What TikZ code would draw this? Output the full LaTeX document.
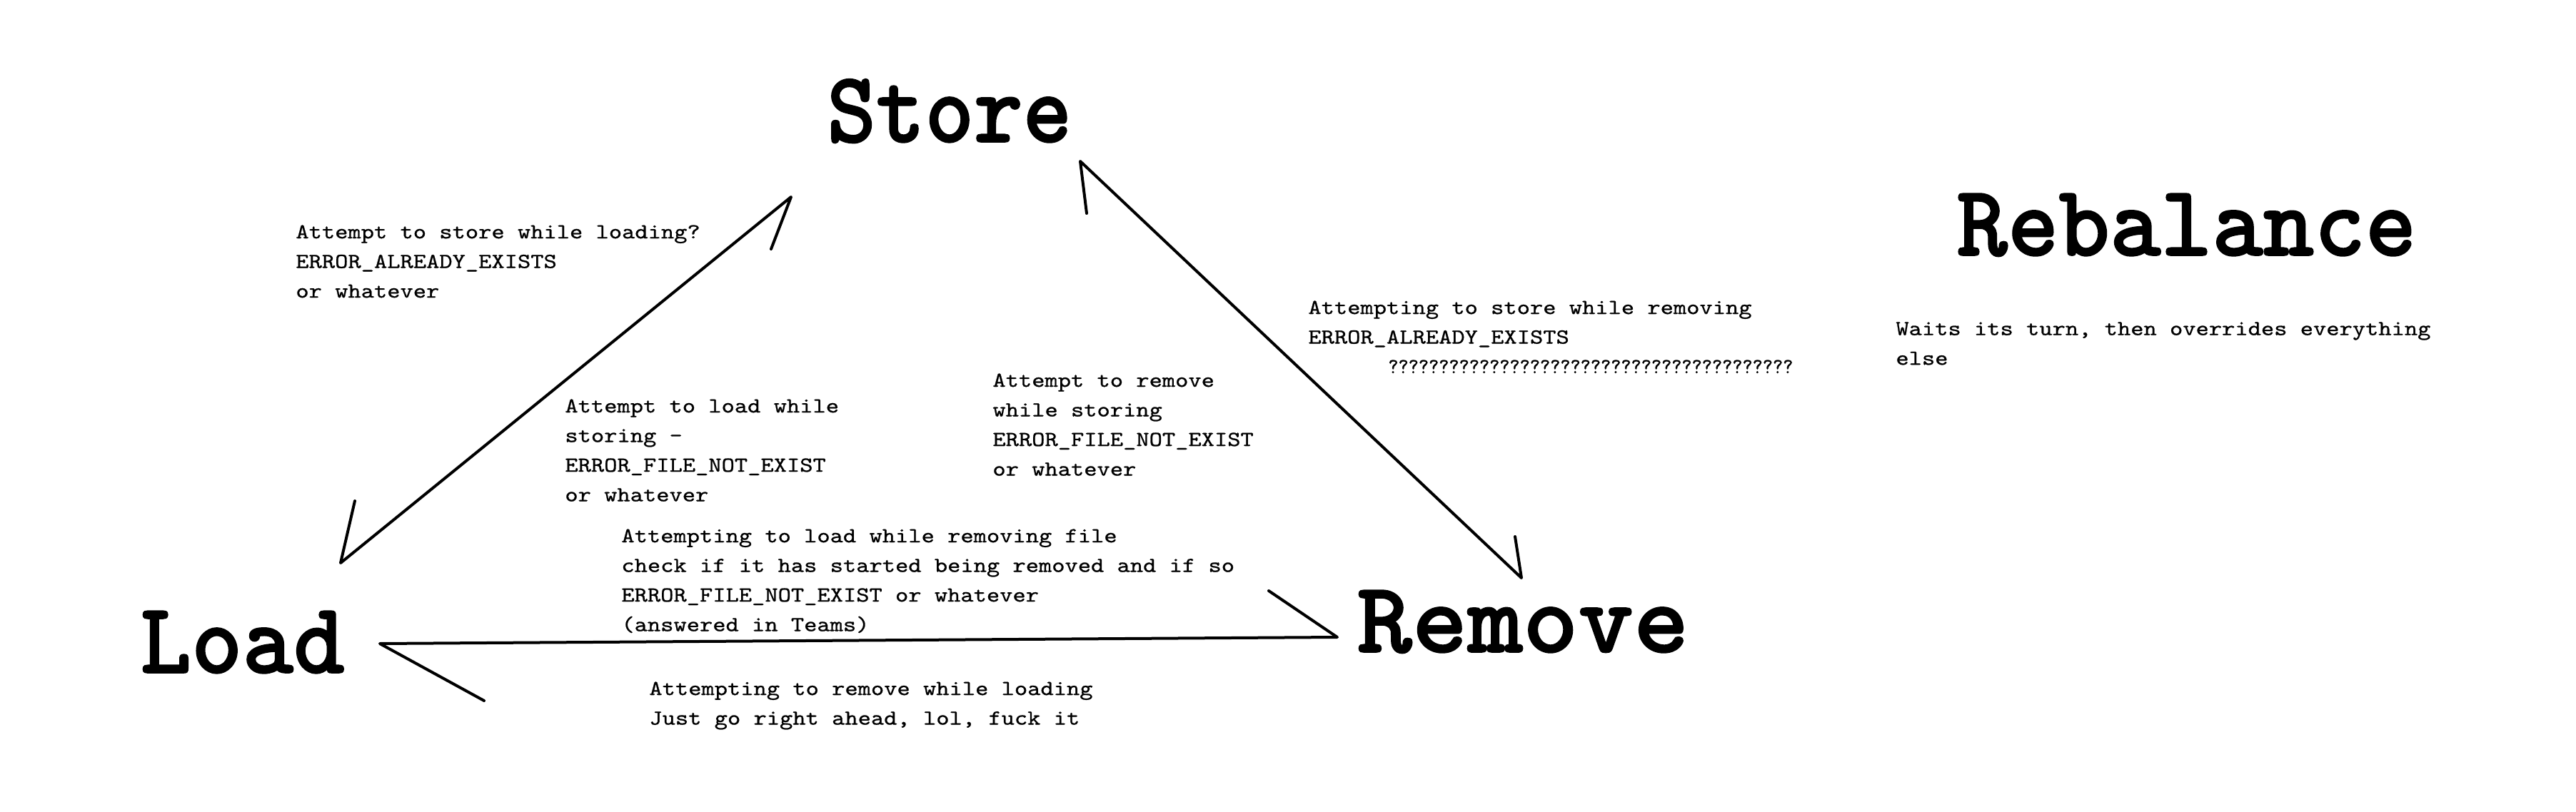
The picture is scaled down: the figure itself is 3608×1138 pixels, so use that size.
\documentclass[tikz,border=0pt]{standalone}
\usepackage{fontspec}
\newfontfamily\smallf{lmmono10-regular.otf}[FakeStretch=1.16,FakeBold=0.8]
\newfontfamily\qf{lmmono10-regular.otf}[FakeStretch=0.9,FakeBold=0.8]
\newfontfamily\bigf{lmmonolt10-bold.otf}[FakeBold=1.2,FakeStretch=0.96]
\newfontfamily\bigs{lmmonolt10-bold.otf}[FakeBold=1.2,FakeStretch=0.92]
\newfontfamily\bigw{lmmonolt10-bold.otf}[FakeBold=1.2,FakeStretch=1.04]
\begin{document}
\begin{tikzpicture}[x=0.5pt,y=-0.5pt,
  big/.style={font=\bigf\fontsize{71pt}{71pt}\selectfont, inner sep=0pt, anchor=base west},
  note/.style={font=\smallf\fontsize{15pt}{20.75pt}\selectfont, inner sep=0pt, anchor=north west, align=left},
  conn/.style={line width=2pt, line cap=round, line join=round},
]
\fill[white] (0,0) rectangle (3608,1138);
\useasboundingbox (0,0) rectangle (3608,1138);

% main labels
\node[big, font=\bigs\fontsize{71pt}{71pt}\selectfont] (store) at (1158,199) {Store};
\node[big] (rebal) at (2740,358) {Rebalance};
\node[big] (load) at (196,943) {Load};
\node[big, font=\bigw\fontsize{71pt}{71pt}\selectfont] (remove) at (1900,914) {Remove};

% notes
\node[note] (nA) at (414,315) {Attempt to store while loading?\\ERROR\_ALREADY\_EXISTS\\or whatever};
\node[note] (nB) at (791,559) {Attempt to load while\\storing -\\ERROR\_FILE\_NOT\_EXIST\\or whatever};
\node[note] (nC) at (1390,523) {Attempt to remove\\while storing\\ERROR\_FILE\_NOT\_EXIST\\or whatever};
\node[note] (nD) at (1832,421) {Attempting to store while removing\\ERROR\_ALREADY\_EXISTS\\\hspace*{56pt}{\qf ????????????????????????????????????????}};
\node[note] (nE) at (870,741) {Attempting to load while removing file\\check if it has started being removed and if so\\ERROR\_FILE\_NOT\_EXIST or whatever\\(answered in Teams)};
\node[note] (nF) at (909,955) {Attempting to remove while loading\\Just go right ahead, lol, fuck it};
\node[note] (nG) at (2655,451) {Waits its turn, then overrides everything\\else};

% connector end points
\coordinate (ls1) at (477,789);
\coordinate (ls1b) at (497,702);
\coordinate (ls2) at (1108,276);
\coordinate (ls2b) at (1080,349);
\coordinate (sr1) at (1513,226);
\coordinate (sr1b) at (1522,299);
\coordinate (sr2) at (2131,810);
\coordinate (sr2b) at (2122,752);
\coordinate (rl1) at (1873,893);
\coordinate (rl1b) at (1777,828);
\coordinate (rl2) at (532,902);
\coordinate (rl2b) at (678,982);

% Load <-> Store
\draw[conn] (ls1b) -- (ls1) -- (ls2) -- (ls2b);
% Store <-> Remove
\draw[conn] (sr1b) -- (sr1) -- (sr2) -- (sr2b);
% Remove <-> Load
\draw[conn] (rl1b) -- (rl1) -- (rl2) -- (rl2b);
\end{tikzpicture}
\end{document}
